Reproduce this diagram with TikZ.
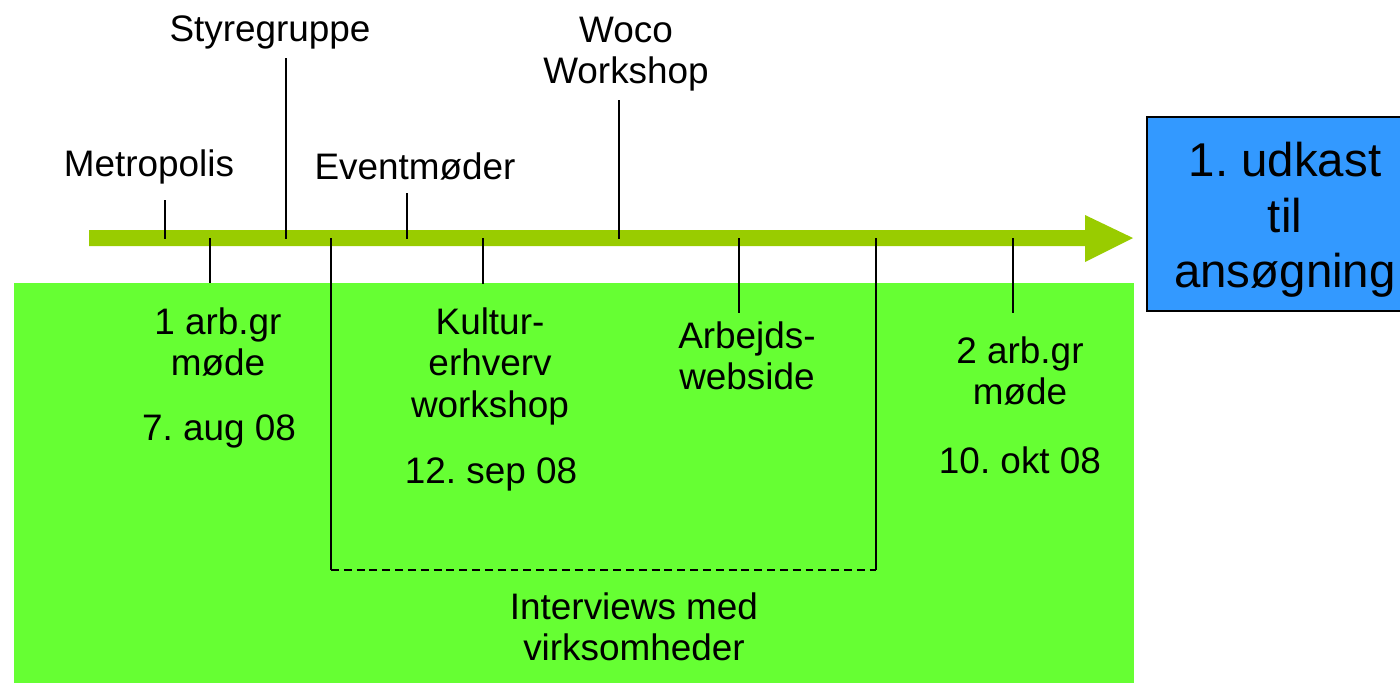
\documentclass[tikz,border=0pt]{standalone}
\usepackage{fontspec}
\setmainfont{Liberation Sans}
\usetikzlibrary{calc}
\frenchspacing

\definecolor{barGreen}{HTML}{99CC00}
\definecolor{fieldGreen}{HTML}{66FF33}
\definecolor{draftBlue}{HTML}{3399FF}

\tikzset{
  lbl/.style={align=center, inner sep=0pt, font=\fontsize{21}{23.6}\selectfont},
  tick/.style={line width=1.1pt, black},
}

\begin{document}
\begin{tikzpicture}[x=0.02cm, y=-0.02cm]
                    \useasboundingbox (0,0) rectangle (1400,684);
                    % background field and timeline
                    \fill[fieldGreen] (14,283) rectangle (1134,683);
                    \fill[barGreen] (89,230) -- (1085,230) -- (1085,215) -- (1133,238) -- (1085,262) -- (1085,246) -- (89,246) -- cycle;
                    \node[draw=black, line width=1.1pt, fill=draftBlue, minimum width=276*0.02cm, minimum height=194*0.02cm] (draft) at (1285,214) {};
                    \node[align=center, inner sep=0pt, font=\fontsize{27}{31.5}\selectfont] (draftTxt) at (1285,220) {1. udkast\\til\\ans\o gning};
                    % ticks above
                    \draw[tick] (165,200) -- (165,239);
                    \draw[tick] (286,58) -- (286,239);
                    \draw[tick] (407,193) -- (407,239);
                    \draw[tick] (619,100) -- (619,239);
                    % ticks below
                    \draw[tick] (210,238) -- (210,283);
                    \draw[tick] (483,238) -- (483,284);
                    \draw[tick] (739,238) -- (739,313);
                    \draw[tick] (1013,238) -- (1013,313);
                    % interview bracket
                    \draw[tick] (331,238) -- (331,570);
                    \draw[tick] (876,238) -- (876,570);
                    \draw[line width=1.1pt, dash pattern=on 4.5pt off 2.8pt] (331,570) -- (876,570);
                    % labels
                    \node[lbl] (styre) at (270,32) {Styregruppe};
                    \node[lbl] (woco) at (626,54) {Woco\\Workshop};
                    \node[lbl] (metro) at (149,167) {Metropolis};
                    \node[lbl] (event) at (415,166) {Eventm\o der};
                    \node[lbl] (arbA) at (218,342) {1 arb.gr\\m\o de};
                    \node[lbl] (dateA) at (219,431) {7. aug 08};
                    \node[lbl] (kultur) at (490,366) {Kultur-\\erhverv\\workshop};
                    \node[lbl] (dateK) at (491,474) {12. sep 08};
                    \node[lbl] (web) at (747,356) {Arbejds-\\webside};
                    \node[lbl] (arbB) at (1020,371) {2 arb.gr\\m\o de};
                    \node[lbl] (dateB) at (1020,460) {10. okt 08};
                    \node[lbl] (interv) at (634,627) {Interviews med\\virksomheder};
                \end{tikzpicture}
\end{document}
